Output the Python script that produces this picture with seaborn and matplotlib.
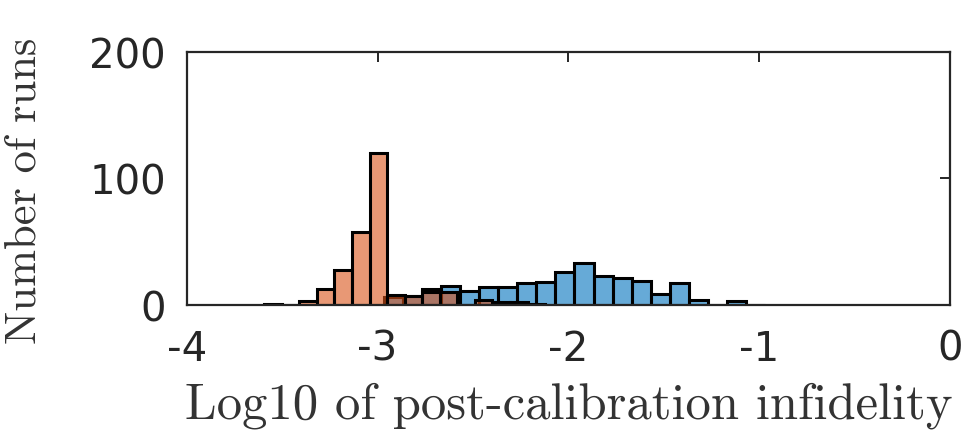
import numpy as np
import matplotlib
matplotlib.use("Agg")
import matplotlib.pyplot as plt
import seaborn as sns

# Blue series (bin width 0.1)
blue_edges = [-2.968, -2.868, -2.768, -2.668, -2.568, -2.468, -2.368, -2.268, -2.168,
              -2.068, -1.968, -1.868, -1.768, -1.668, -1.568, -1.468, -1.368, -1.268,
              -1.168, -1.068, -0.968]
blue_counts = [6, 7, 13, 15, 11, 14, 14, 17, 18, 26, 33, 23, 21, 19, 9, 17, 4, 0, 3, 0]

# Orange series (bin width ~0.092)
orange_edges = [-3.594, -3.502, -3.410, -3.318, -3.226, -3.134, -3.042, -2.950, -2.858,
                -2.766, -2.674, -2.582, -2.490, -2.398, -2.306, -2.214, -2.122]
orange_counts = [1, 0, 3, 13, 28, 58, 120, 8, 7, 10, 10, 0, 4, 2, 2, 1]

xticks = [-4, -3, -2, -1, 0]
yticks = [0, 100, 200]
xlabel = "Log10 of post-calibration infidelity"
ylabel = "Number of runs"

sns.set_style("white")
plt.rcParams["axes.unicode_minus"] = False
plt.rcParams["font.family"] = ["DejaVu Sans"]

fig = plt.figure(figsize=(9.74, 4.35), dpi=100)
ax = fig.add_axes([0.1917, 0.2966, 0.7837, 0.5824])

blue_c = np.array(blue_edges[:-1]) + np.diff(blue_edges) / 2
orange_c = np.array(orange_edges[:-1]) + np.diff(orange_edges) / 2

sns.histplot(x=blue_c, weights=blue_counts, bins=blue_edges, ax=ax,
             color=(0.0, 0.447, 0.741), alpha=0.6, edgecolor="black", linewidth=2.2)
sns.histplot(x=orange_c, weights=orange_counts, bins=orange_edges, ax=ax,
             color=(0.85, 0.325, 0.098), alpha=0.6, edgecolor="black", linewidth=2.2)

ax.set_xlim(-4, 0)
ax.set_ylim(0, 200)
ax.set_xticks(xticks)
ax.set_xticklabels([str(t) for t in xticks])
ax.set_yticks(yticks)
ax.set_yticklabels([str(t) for t in yticks])

for s in ax.spines.values():
    s.set_visible(True)
    s.set_color("#262626")
    s.set_linewidth(1.6)
ax.tick_params(direction="in", length=7, width=1.4, colors="#262626",
               labelsize=29, top=True, right=True)
ax.tick_params(axis="y", pad=15)
ax.tick_params(axis="x", pad=17)

ax.set_xlabel(xlabel, family=["cmr10", "DejaVu Serif"], fontsize=36.5, color="#333333")
ax.set_ylabel(ylabel, family=["cmr10", "DejaVu Serif"], fontsize=32, color="#333333")
ax.xaxis.set_label_coords(0.5, -0.30)
ax.yaxis.set_label_coords(-0.186, 0.454)

fig.savefig("out.png", dpi=100)
